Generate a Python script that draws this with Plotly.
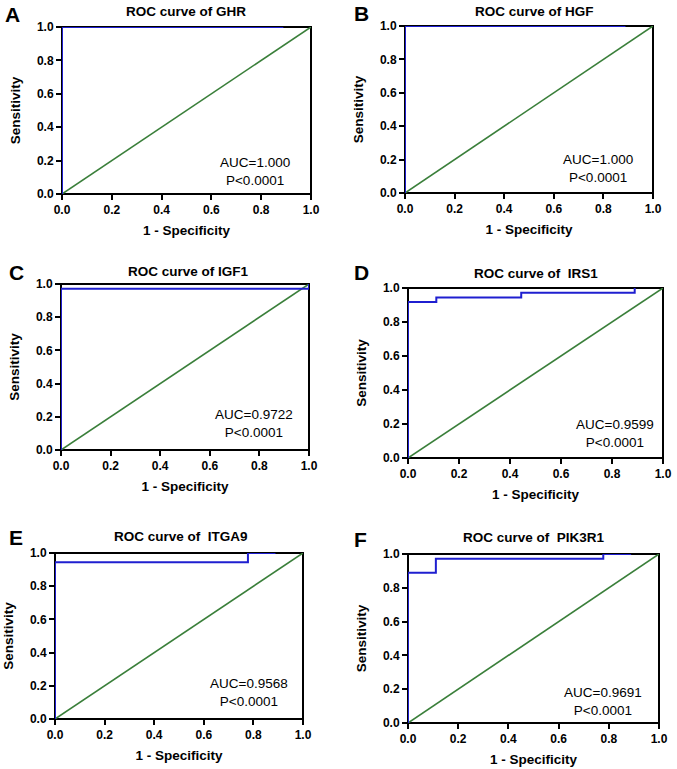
import plotly.graph_objects as go

W, H = 677, 769

# ---- data ----
panel_letters = ["A", "B", "C", "D", "E", "F"]
genes = ["GHR", "HGF", "IGF1", "IRS1", "ITGA9", "PIK3R1"]
titles = ["ROC curve of GHR", "ROC curve of HGF", "ROC curve of IGF1",
          "ROC curve of\u00a0 IRS1", "ROC curve of\u00a0 ITGA9", "ROC curve of\u00a0 PIK3R1"]
auc_values = ["1.000", "1.000", "0.9722", "0.9599", "0.9568", "0.9691"]
p_values = ["P<0.0001"] * 6

fpr_ghr = [0, 0, 0.889]
tpr_ghr = [0, 1.0, 1.0]
fpr_hgf = [0, 0, 0.889]
tpr_hgf = [0, 1.0, 1.0]
fpr_igf1 = [0, 0, 1.0]
tpr_igf1 = [0, 0.972, 1.0]
fpr_irs1 = [0, 0, 0.111, 0.444, 0.889]
tpr_irs1 = [0, 0.917, 0.944, 0.972, 1.0]
fpr_itga9 = [0, 0, 0.778, 0.889]
tpr_itga9 = [0, 0.944, 1.0, 1.0]
fpr_pik3r1 = [0, 0, 0.111, 0.778, 0.889]
tpr_pik3r1 = [0, 0.889, 0.972, 1.0, 1.0]

ref_x = [0, 1]
ref_y = [0, 1]
tick_vals = [0.0, 0.2, 0.4, 0.6, 0.8, 1.0]
tick_text = ["0.0", "0.2", "0.4", "0.6", "0.8", "1.0"]

curves = [(fpr_ghr, tpr_ghr), (fpr_hgf, tpr_hgf), (fpr_igf1, tpr_igf1),
          (fpr_irs1, tpr_irs1), (fpr_itga9, tpr_itga9), (fpr_pik3r1, tpr_pik3r1)]

# ---- layout geometry (pixels: left, right, top, bottom) ----
boxes = [(62, 311, 27, 194), (405, 653, 26, 193),
         (61, 309, 284, 450), (408, 663, 288, 458),
         (55, 303, 553, 719), (408, 659, 554, 723)]
letter_pos = [(3, 14), (352, 13), (7, 272), (352, 272), (7, 537), (352, 539)]
title_pos = [(186, 12), (534, 12), (188, 271), (536, 273), (181, 536), (534, 537)]
auc_pos = [(0.775, 0.135), (0.778, 0.144), (0.778, 0.16),
           (0.812, 0.147), (0.782, 0.16), (0.777, 0.127)]

FONT = "Liberation Sans, Arial, sans-serif"
BLUE = "#1f1fd0"
GREEN = "#3a7f3a"

fig = go.Figure()
layout = dict(width=W, height=H, margin=dict(l=0, r=0, t=0, b=0),
              paper_bgcolor="white", plot_bgcolor="white", showlegend=False,
              font=dict(family=FONT, color="black"))
annotations = []
shapes = []

for i, ((l, r, t, b), (fx, ty)) in enumerate(zip(boxes, curves)):
    n = "" if i == 0 else str(i + 1)
    xa, ya = "x" + n, "y" + n
    fig.add_trace(go.Scatter(x=ref_x, y=ref_y, mode="lines", xaxis=xa, yaxis=ya,
                             line=dict(color=GREEN, width=1.6), cliponaxis=False,
                             hoverinfo="skip"))
    fig.add_trace(go.Scatter(x=fx, y=ty, mode="lines", xaxis=xa, yaxis=ya,
                             line=dict(color=BLUE, width=2, shape="hv"),
                             cliponaxis=False, hoverinfo="skip"))
    common = dict(range=[0, 1], showgrid=False, zeroline=False, showline=False,
                  ticks="outside", ticklen=5, tickwidth=2, tickcolor="black",
                  tickvals=tick_vals, ticktext=tick_text, layer="below traces",
                  tickfont=dict(family=FONT, size=12, weight="bold", color="black"),
                  automargin=False, fixedrange=True)
    layout["xaxis" + n] = dict(common, domain=[l / W, r / W], anchor=ya,
                               title=dict(text="1 - Specificity", standoff=9,
                                          font=dict(family=FONT, size=13.5, weight="bold")))
    layout["yaxis" + n] = dict(common, domain=[1 - b / H, 1 - t / H], anchor=xa,
                               title=dict(text="Sensitivity", standoff=13,
                                          font=dict(family=FONT, size=13.5, weight="bold")))
    shapes.append(dict(type="rect", xref=xa + " domain", yref=ya + " domain",
                       x0=0, x1=1, y0=0, y1=1, layer="below",
                       line=dict(color="black", width=2), fillcolor="rgba(0,0,0,0)"))
    lx, ly = letter_pos[i]
    annotations.append(dict(text=panel_letters[i], xref="paper", yref="paper",
                            x=lx / W, y=1 - ly / H, xanchor="left", yanchor="middle",
                            showarrow=False,
                            font=dict(family=FONT, size=21, weight="bold")))
    tx, tyy = title_pos[i]
    annotations.append(dict(text=titles[i], xref="paper", yref="paper",
                            x=tx / W, y=1 - tyy / H, xanchor="center", yanchor="middle",
                            showarrow=False,
                            font=dict(family=FONT, size=13.5, weight="bold")))
    ax_, ay_ = auc_pos[i]
    annotations.append(dict(text="AUC=" + auc_values[i] + "<br>" + p_values[i].replace("<", "&lt;"),
                            xref=xa, yref=ya, x=ax_, y=ay_, xanchor="center",
                            yanchor="middle", showarrow=False, align="center",
                            font=dict(family=FONT, size=13.5, color="black")))

layout["annotations"] = annotations
layout["shapes"] = shapes
fig.update_layout(**layout)
fig.write_html("out.html", config={"displayModeBar": False},
               post_script="document.body.style.margin='0';")
